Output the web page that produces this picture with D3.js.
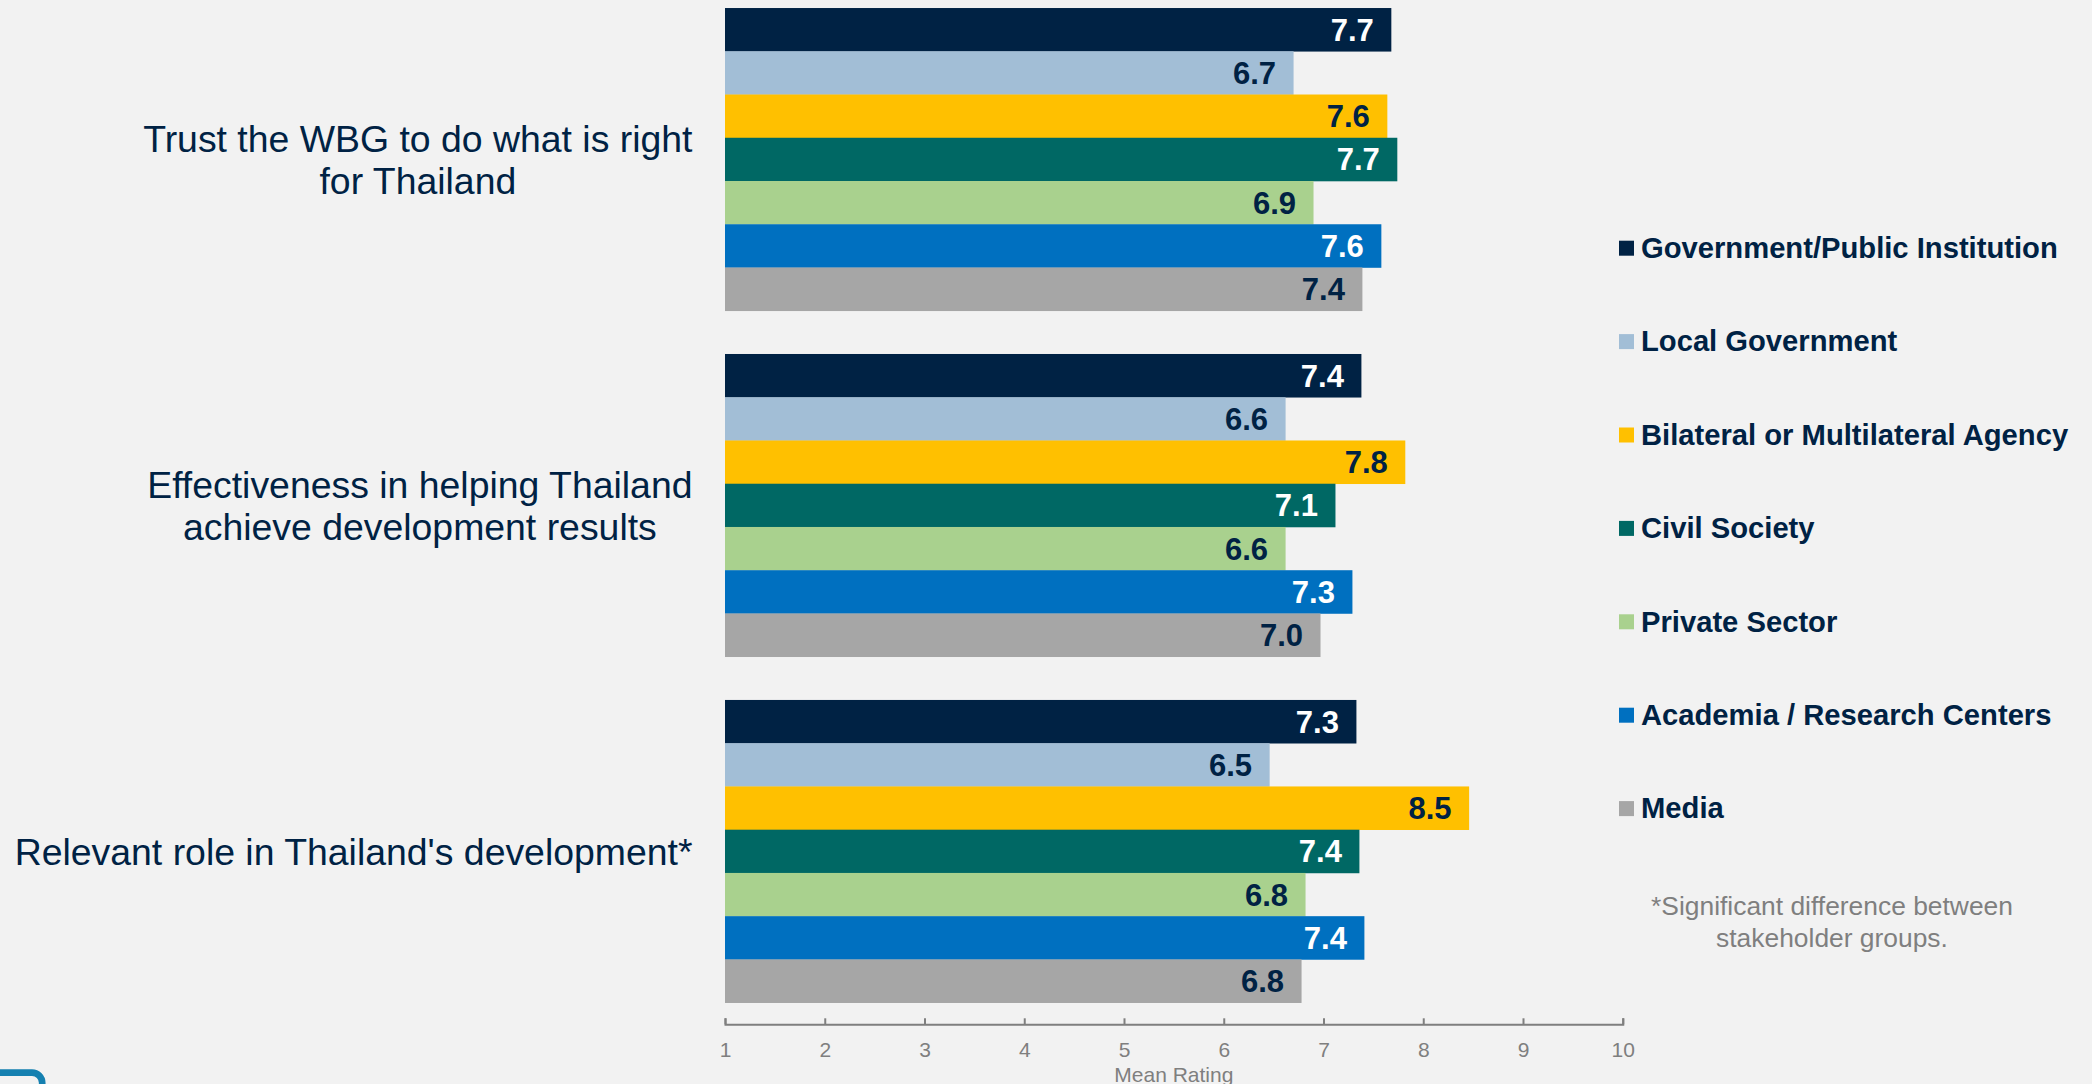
<!DOCTYPE html>
<html>
<head>
<meta charset="utf-8">
<script src="https://cdn.jsdelivr.net/npm/d3@7"></script>
<style>
  html, body { margin: 0; padding: 0; background: #F2F2F2; }
  svg { display: block; }
  text { font-family: "Liberation Sans", Arial, sans-serif; }
</style>
</head>
<body>
<svg id="chart" width="2092" height="1084"></svg>
<script>
// ---- data ----
const categories = [
  "Trust the WBG to do what is right|for Thailand",
  "Effectiveness in helping Thailand|achieve development results",
  "Relevant role in Thailand's development*"
];
const seriesNames = [
  "Government/Public Institution",
  "Local Government",
  "Bilateral or Multilateral Agency",
  "Civil Society",
  "Private Sector",
  "Academia / Research Centers",
  "Media"
];
const seriesColors = ["#002244", "#A2BED6", "#FFC000", "#006864", "#A9D18E", "#0070C0", "#A6A6A6"];
const labelColors  = ["#FFFFFF", "#002244", "#002244", "#FFFFFF", "#002244", "#FFFFFF", "#002244"];
// values per series, one per category (mean rating)
const govValues       = [7.68, 7.38, 7.33];
const localValues     = [6.70, 6.62, 6.46];
const bilateralValues = [7.64, 7.82, 8.46];
const civilValues     = [7.74, 7.12, 7.36];
const privateValues   = [6.90, 6.62, 6.82];
const academiaValues  = [7.58, 7.29, 7.41];
const mediaValues     = [7.39, 6.97, 6.78];
const seriesValues = [govValues, localValues, bilateralValues, civilValues, privateValues, academiaValues, mediaValues];
const xTicks = [1, 2, 3, 4, 5, 6, 7, 8, 9, 10];
const xDomain = [1, 10];
const axisTitle = "Mean Rating";
const footnote = ["*Significant difference between", "stakeholder groups."];

// ---- layout ----
const svg = d3.select("#chart");
const navy = "#002244";
const gray = "#7F7F7F";

const x = d3.scaleLinear().domain(xDomain).range([725, 1622.75]);
const y = d3.scaleBand().domain(categories).range([-13.6, 1024.3])
  .paddingInner(0.125).paddingOuter(0.0625);
const ySub = d3.scaleBand().domain(seriesNames).range([0, y.bandwidth()]);

const rows = [];
categories.forEach((c, ci) => {
  seriesNames.forEach((s, si) => {
    rows.push({cat: c, series: s, si: si, value: seriesValues[si][ci]});
  });
});

const fmt = d3.format(".1f");

// bars
const g = svg.append("g");
g.selectAll("rect.bar").data(rows).join("rect")
  .attr("class", "bar")
  .attr("x", x(xDomain[0]))
  .attr("y", d => y(d.cat) + ySub(d.series))
  .attr("width", d => x(d.value) - x(xDomain[0]))
  .attr("height", ySub.bandwidth() + 0.3)
  .attr("fill", d => seriesColors[d.si]);

// value labels
g.selectAll("text.val").data(rows).join("text")
  .attr("class", "val")
  .attr("x", d => x(d.value) - 17.5)
  .attr("y", d => y(d.cat) + ySub(d.series) + ySub.bandwidth() / 2 + 11)
  .attr("text-anchor", "end")
  .attr("font-size", 31)
  .attr("font-weight", "bold")
  .attr("fill", d => labelColors[d.si])
  .text(d => fmt(d.value));

// category labels (block right-aligned, lines centered)
const catG = svg.append("g");
categories.forEach(c => {
  const lines = c.split("|");
  const t = catG.append("text")
    .attr("font-size", 37.4)
    .attr("fill", navy)
    .attr("text-anchor", "middle");
  const center = y(c) + y.bandwidth() / 2;
  const lh = 42;
  lines.forEach((ln, i) => {
    t.append("tspan")
      .attr("y", center + (i - (lines.length - 1) / 2) * lh + 13.3)
      .text(ln);
  });
  let maxW = 0;
  t.selectAll("tspan").each(function() { maxW = Math.max(maxW, this.getComputedTextLength()); });
  t.selectAll("tspan").attr("x", 692.5 - maxW / 2);
});

// x axis
const axis = d3.axisBottom(x).tickValues(xTicks).tickFormat(d3.format("d"))
  .tickSizeInner(-6).tickSizeOuter(-6).tickPadding(18);
const ax = svg.append("g").attr("transform", "translate(0,1024.3)").call(axis);
ax.select(".domain").attr("stroke", gray).attr("stroke-width", 2);
ax.selectAll(".tick line").attr("stroke", gray).attr("stroke-width", 2);
ax.selectAll(".tick text").attr("fill", gray).attr("font-size", 21)
  .attr("font-family", "'Liberation Sans', Arial, sans-serif");

svg.append("text")
  .attr("x", (x.range()[0] + x.range()[1]) / 2)
  .attr("y", 1081.5)
  .attr("text-anchor", "middle")
  .attr("font-size", 21)
  .attr("fill", gray)
  .text(axisTitle);

// legend
const leg = svg.append("g");
seriesNames.forEach((s, i) => {
  const base = 258 + i * 93.4;
  leg.append("rect")
    .attr("x", 1619).attr("y", base - 17.3)
    .attr("width", 15).attr("height", 15)
    .attr("fill", seriesColors[i]);
  leg.append("text")
    .attr("x", 1641).attr("y", base)
    .attr("font-size", 29.2).attr("font-weight", "bold")
    .attr("fill", navy)
    .text(s);
});

// footnote
const fn = svg.append("text")
  .attr("text-anchor", "middle")
  .attr("font-size", 26.4)
  .attr("fill", gray);
footnote.forEach((ln, i) => {
  fn.append("tspan").attr("x", 1832).attr("y", 915 + i * 31.7).text(ln);
});

// logo fragment bottom-left
svg.append("path")
  .attr("d", "M-10,1072.6 H32 A10.2,10.2 0 0 1 42.2,1082.8 V1100")
  .attr("fill", "none")
  .attr("stroke", "#1580B0")
  .attr("stroke-width", 6.7);
</script>
</body>
</html>
